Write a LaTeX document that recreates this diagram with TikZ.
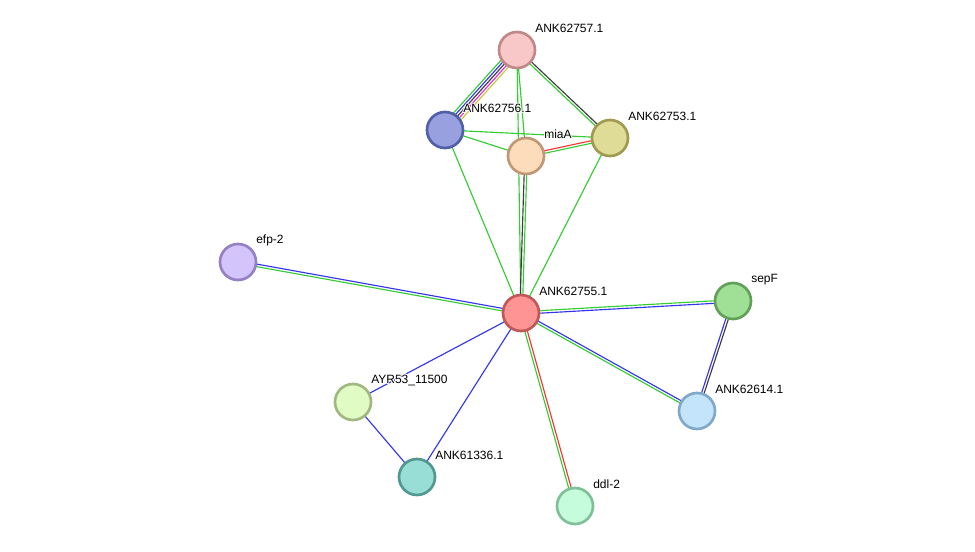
\documentclass[tikz,border=0pt]{standalone}
\usepackage{fontspec}
\setmainfont{Liberation Sans}
\usetikzlibrary{calc}
\pgfdeclarelayer{bg}
\pgfsetlayers{bg,main}
\definecolor{cgreen}{RGB}{51,204,51}
\definecolor{cblue}{RGB}{51,51,240}
\definecolor{cred}{RGB}{250,50,50}
\definecolor{cdark}{RGB}{60,60,60}
\definecolor{cmag}{RGB}{230,40,230}
\definecolor{cyel}{RGB}{200,200,40}
\definecolor{f57}{RGB}{248,200,200}\definecolor{d57}{RGB}{192,136,136}
\definecolor{f56}{RGB}{152,160,224}\definecolor{d56}{RGB}{80,96,168}
\definecolor{fmia}{RGB}{253,220,188}\definecolor{dmia}{RGB}{192,152,120}
\definecolor{f53}{RGB}{222,220,150}\definecolor{d53}{RGB}{160,154,80}
\definecolor{fefp}{RGB}{212,196,252}\definecolor{defp}{RGB}{148,128,196}
\definecolor{f55}{RGB}{255,148,148}\definecolor{d55}{RGB}{192,88,88}
\definecolor{fsepf}{RGB}{160,224,150}\definecolor{dsepf}{RGB}{96,160,88}
\definecolor{f614}{RGB}{196,228,252}\definecolor{d614}{RGB}{128,168,200}
\definecolor{fayr}{RGB}{224,252,196}\definecolor{dayr}{RGB}{160,184,128}
\definecolor{f336}{RGB}{152,222,214}\definecolor{d336}{RGB}{80,152,144}
\definecolor{fddl}{RGB}{196,252,220}\definecolor{dddl}{RGB}{128,192,152}
\tikzset{
  prot/.style={circle,minimum size=27pt,inner sep=0pt,line width=2pt,fill=f#1,draw=d#1},
  lab/.style={anchor=west,inner sep=0pt,font=\fontsize{9pt}{10pt}\selectfont},
  edge/.style={line width=0.85pt}
}
\newcommand\E[4]{\draw[edge,#4] ($(#1.center)!{#3*1.9pt}!90:(#2.center)$) -- ($(#2.center)!{#3*1.9pt}!-90:(#1.center)$);}
\newcommand\lbl[3]{%
  \foreach \dx/\dy in {0.6pt/0pt,-0.6pt/0pt,0pt/0.6pt,0pt/-0.6pt,0.45pt/0.45pt,-0.45pt/0.45pt,0.45pt/-0.45pt,-0.45pt/-0.45pt}
    {\node[lab,white,xshift=\dx,yshift=\dy] at ($(#2)+(18,-21.5)$) {#3};}
  \node[lab] (#1) at ($(#2)+(18,-21.5)$) {#3};}
\begin{document}
\begin{tikzpicture}[x=0.75pt,y=-0.75pt]
\useasboundingbox (0,0) rectangle (975,552);
% nodes
\node[prot=57] (n57) at (517,50) {};
\node[prot=56] (n56) at (445,130) {};
\node[prot=mia] (mia) at (526,156) {};
\node[prot=53] (n53) at (610,138) {};
\node[prot=efp] (efp) at (238,262) {};
\node[prot=55] (n55) at (521,313) {};
\node[prot=sepf] (sepf) at (733,301) {};
\node[prot=614] (n614) at (697,411) {};
\node[prot=ayr] (ayr) at (353,402) {};
\node[prot=336] (n336) at (417,477) {};
\node[prot=ddl] (ddl) at (575,506) {};
% edges
\begin{pgfonlayer}{bg}
\fill[white] (0,0) rectangle (975,552);
\E{n57}{n56}{-2}{cgreen}
\E{n57}{n56}{-1}{cblue}
\E{n57}{n56}{0}{cdark}
\E{n57}{n56}{1}{cmag}
\E{n57}{n56}{2}{cyel}
\E{n57}{n53}{0.5}{cdark}
\E{n57}{n53}{-0.5}{cgreen}
\E{n57}{mia}{0}{cgreen}
\E{n57}{n55}{0}{cgreen}
\E{n56}{mia}{0}{cgreen}
\E{n56}{n53}{0}{cgreen}
\E{n56}{n55}{0}{cgreen}
\E{n53}{n55}{0}{cgreen}
\E{mia}{n53}{0.5}{cred}
\E{mia}{n53}{-0.5}{cgreen}
\E{mia}{n55}{-0.5}{cdark}
\E{mia}{n55}{0.5}{cgreen}
\E{efp}{n55}{0.5}{cblue}
\E{efp}{n55}{-0.5}{cgreen}
\E{n55}{sepf}{0.5}{cgreen}
\E{n55}{sepf}{-0.5}{cblue}
\E{n55}{n614}{0.5}{cblue}
\E{n55}{n614}{-0.5}{cgreen}
\E{sepf}{n614}{0.5}{cdark}
\E{sepf}{n614}{-0.5}{cblue}
\E{n55}{ddl}{0.5}{cred}
\E{n55}{ddl}{-0.5}{cgreen}
\E{n55}{ayr}{0}{cblue}
\E{n55}{n336}{0}{cblue}
\E{ayr}{n336}{0}{cblue}
\end{pgfonlayer}
% labels
\lbl{l57}{n57}{ANK62757.1}
\lbl{l56}{n56}{ANK62756.1}
\lbl{lmia}{mia}{miaA}
\lbl{l53}{n53}{ANK62753.1}
\lbl{lefp}{efp}{efp-2}
\lbl{l55}{n55}{ANK62755.1}
\lbl{lsepf}{sepf}{sepF}
\lbl{l614}{n614}{ANK62614.1}
\lbl{layr}{ayr}{AYR53\_11500}
\lbl{l336}{n336}{ANK61336.1}
\lbl{lddl}{ddl}{ddl-2}
\end{tikzpicture}
\end{document}
